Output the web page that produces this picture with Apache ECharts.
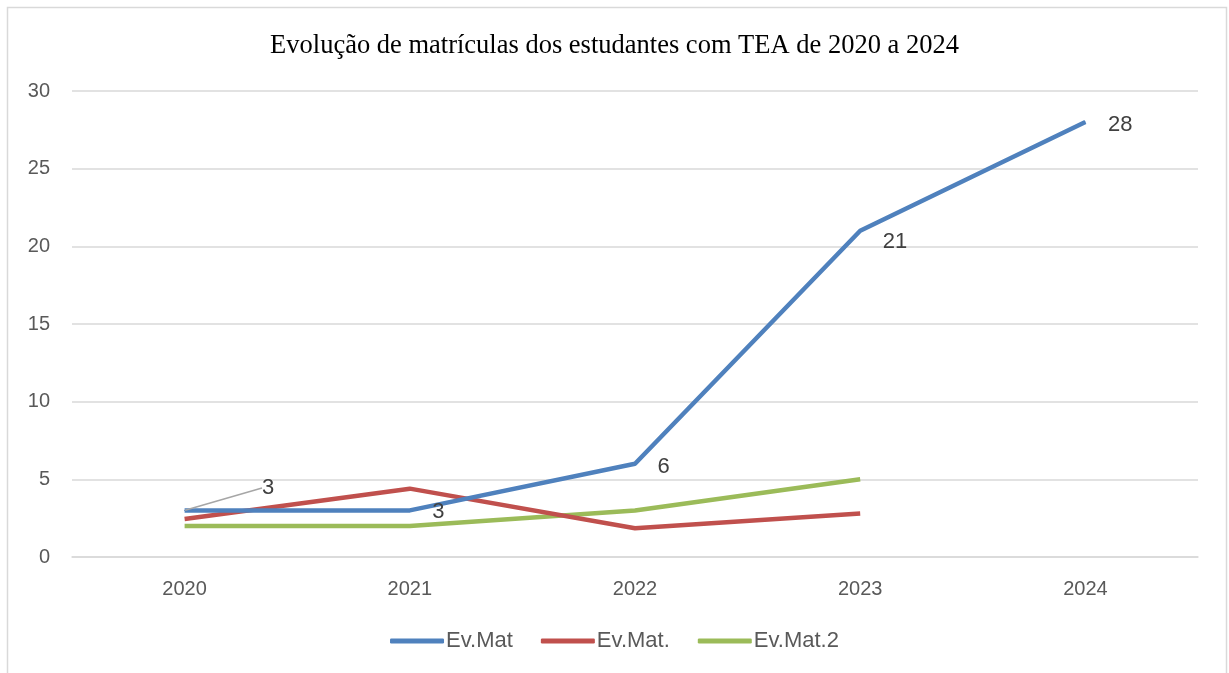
<!DOCTYPE html>
<html><head><meta charset="utf-8">
<script src="https://cdn.jsdelivr.net/npm/echarts@6/dist/echarts.min.js"></script>
<style>html,body{margin:0;padding:0;background:#fff}#c{width:1229px;height:673px}</style>
</head><body><div id="c"></div>
<script>
const categories = ['2020','2021','2022','2023','2024'];
const evMat = [3, 3, 6, 21, 28];
const evMatDot = [2.45, 4.4, 1.85, 2.8, null];
const evMat2 = [2, 2, 3, 5, null];
const yTicks = {min: 0, max: 30, interval: 5};

const chart = echarts.init(document.getElementById('c'));
const FONT = 'Liberation Sans, Arial, sans-serif';
const lab = {fontFamily: FONT, color: '#595959', fontSize: 20};
const evMatData = evMat.map((v, i) => i === 0
  ? {value: v, labelLine: {show: true}, label: {padding: [0, 0, 0, 16]}}
  : v);
chart.setOption({
  animation: false,
  title: {text: 'Evolução de matrículas dos estudantes com TEA de 2020 a 2024', left: 'center', top: 28,
    textStyle: {fontFamily: 'Liberation Serif, Times New Roman, serif', fontWeight: 'normal', fontSize: 26.5, color: '#000'}},
  graphic: [{type: 'rect', shape: {x: 7.5, y: 7.5, width: 1219, height: 680}, style: {fill: 'none', stroke: '#d9d9d9', lineWidth: 1.5}, silent: true, z: -1}],
  grid: {left: 72, right: 31, top: 91, bottom: 116},
  legend: {bottom: 16, left: 'center', itemWidth: 54, itemHeight: 5, itemGap: 28,
    icon: 'roundRect', textStyle: Object.assign({}, lab, {fontSize: 22, padding: [0, 0, 0, -3]}),
    data: ['Ev.Mat', 'Ev.Mat.', 'Ev.Mat.2']},
  xAxis: {type: 'category', data: categories, boundaryGap: true,
    axisLine: {lineStyle: {color: '#d9d9d9', width: 1.5}}, axisTick: {show: false},
    axisLabel: Object.assign({margin: 22}, lab)},
  yAxis: {type: 'value', min: yTicks.min, max: yTicks.max, interval: yTicks.interval,
    axisLine: {show: false}, axisTick: {show: false},
    splitLine: {lineStyle: {color: '#d9d9d9', width: 1.5}},
    axisLabel: Object.assign({margin: 22}, lab)},
  series: [
    {name: 'Ev.Mat', type: 'line', data: evMatData, symbol: 'circle', symbolSize: 1, showSymbol: true, z: 3,
      lineStyle: {width: 4.5, color: '#4f81bd'}, itemStyle: {color: '#4f81bd'},
      label: {show: true, position: 'right', distance: 22, color: '#404040', fontSize: 22, fontFamily: FONT},
      labelLine: {show: false, lineStyle: {color: '#a6a6a6', width: 1.5}},
      labelLayout: function (p) {
        if (p.dataIndex === 0) return {x: 246, y: 488, align: 'left', verticalAlign: 'middle'};
        if (p.dataIndex === 1) return {dy: 2};
        if (p.dataIndex === 2) return {dy: 3};
        if (p.dataIndex === 3) return {dy: 11};
        if (p.dataIndex === 4) return {dy: 3};
        return {};
      }
    },
    {name: 'Ev.Mat.', type: 'line', data: evMatDot, symbol: 'none', z: 2,
      lineStyle: {width: 4.5, color: '#c0504d'}, itemStyle: {color: '#c0504d'}},
    {name: 'Ev.Mat.2', type: 'line', data: evMat2, symbol: 'none', z: 1,
      lineStyle: {width: 4.5, color: '#9bbb59'}, itemStyle: {color: '#9bbb59'}}
  ]
});
</script></body></html>
